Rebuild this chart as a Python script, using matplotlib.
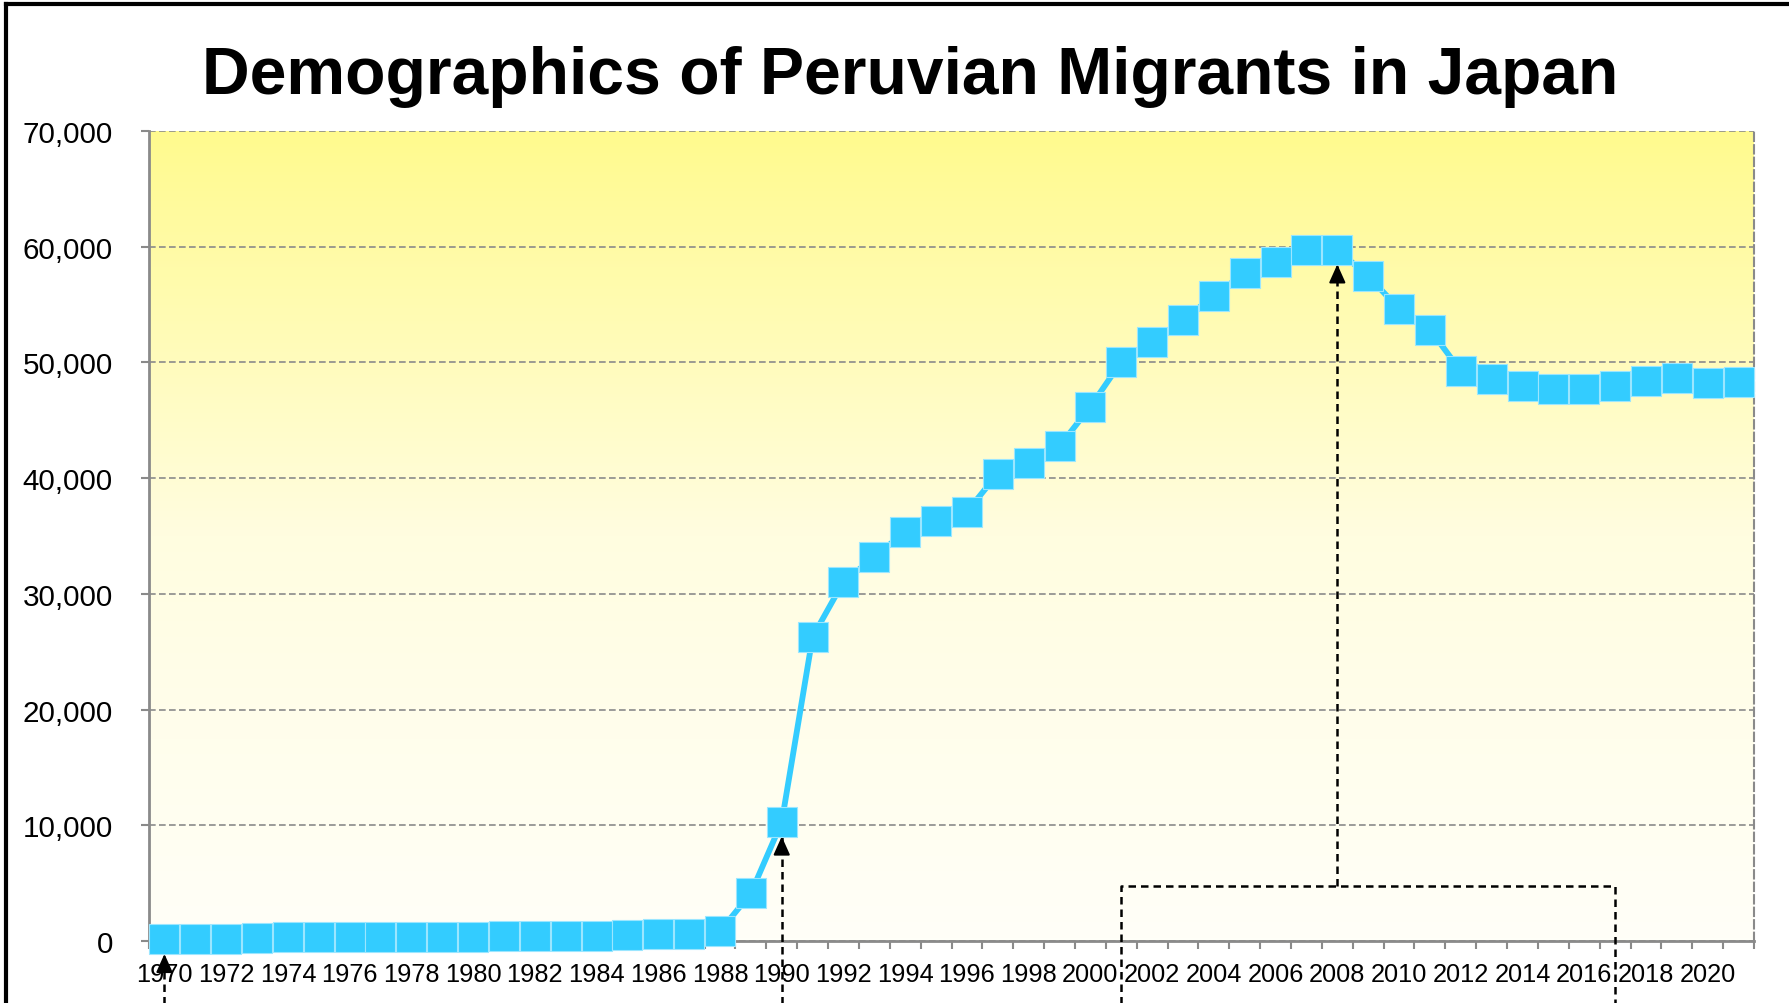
import matplotlib
matplotlib.use("Agg")
import matplotlib.pyplot as plt
import numpy as np
from matplotlib.colors import LinearSegmentedColormap
from matplotlib.lines import Line2D
from matplotlib.ticker import FuncFormatter

plt.rcParams["font.family"] = ["Liberation Sans", "DejaVu Sans"]

# ---------------------------------------------------------------------------
# Data
# ---------------------------------------------------------------------------
years = list(range(1970, 2022))
migrants = [
    130, 160, 216, 245, 303, 332, 332, 332, 332, 332,        # 1970-1979
    361, 390, 418, 418, 447, 476, 563, 620, 851, 4121,       # 1980-1989
    10279, 26281, 31051, 33169, 35382, 36269, 37099, 40394,  # 1990-1997
    41317, 42773, 46171, 50052, 51772, 53649, 55750, 57728,  # 1998-2005
    58721, 59696, 59723, 57464, 54636, 52843, 49255, 48598,  # 2006-2013
    47978, 47721, 47740, 47972, 48362, 48669, 48256, 48291,  # 2014-2021
]
title = "Demographics of Peruvian Migrants in Japan"
y_ticks = [0, 10000, 20000, 30000, 40000, 50000, 60000, 70000]

# annotation anchors
arrow_years = [1970, 1990]
bracket_years = [2001, 2017]
bracket_target = 2008
bracket_level = 4760

W, H, DPI = 1789, 1004, 100
LINE_BLUE = "#33CCFF"
GRID_GRAY = "#8a8a8a"

fig = plt.figure(figsize=(W / DPI, H / DPI), dpi=DPI)
ax = fig.add_axes([149 / W, 62 / H, (1754 - 149) / W, (942 - 132) / H])

# yellow-to-white gradient background
cmap = LinearSegmentedColormap.from_list("bg", ["#FFFFF8", "#FFFDE0", "#FFFA8E"])
grad = np.linspace(0, 1, 256).reshape(-1, 1)
ax.imshow(grad, cmap=cmap, origin="lower", aspect="auto",
          extent=(0, 1, 0, 1), transform=ax.transAxes, zorder=0)

x = np.arange(len(years))
ax.plot(x, migrants, color=LINE_BLUE, linewidth=4.2, marker="s",
        markersize=21, markerfacecolor=LINE_BLUE,
        markeredgecolor="#9BE6FF", markeredgewidth=0.8,
        zorder=4, clip_on=False)

ax.set_xlim(-0.5, len(years) - 0.5)
ax.set_ylim(0, 70000)

# y axis
ax.set_yticks(y_ticks)
ax.yaxis.set_major_formatter(FuncFormatter(lambda v, _: f"{int(v):,}"))
ax.tick_params(axis="y", length=6, width=1.5, color=GRID_GRAY,
               labelsize=21.3, pad=20)
ax.grid(axis="y", color=GRID_GRAY, linestyle=(0, (4, 2)), linewidth=1.2,
        zorder=1)
ax.set_axisbelow(True)

# x axis: labels every 2 years, ticks between categories
ax.set_xticks(x[::2])
ax.set_xticklabels([str(y) for y in years[::2]])
ax.set_xticks(np.arange(-0.5, len(years)), minor=True)
ax.tick_params(axis="x", which="major", length=0, labelsize=18.3, pad=15)
ax.tick_params(axis="x", which="minor", length=6, width=1.5,
               color=GRID_GRAY)

for side in ("left", "bottom"):
    ax.spines[side].set_color(GRID_GRAY)
    ax.spines[side].set_linewidth(2)
ax.spines["right"].set_color(GRID_GRAY)
ax.spines["right"].set_linewidth(1.5)
ax.spines["right"].set_linestyle((0, (4, 2)))
ax.spines["top"].set_visible(False)

# ---------------------------------------------------------------------------
# dashed annotation arrows
# ---------------------------------------------------------------------------
dash = (0, (3, 2))
below = -9000
head = dict(arrowstyle="-|>,head_length=0.8,head_width=0.36",
            color="black", lw=1.5, shrinkA=0, shrinkB=10.4,
            mutation_scale=14)


def arrow_to(year, top):
    i = years.index(year)
    v = migrants[i]
    ax.plot([i, i], [top, v], color="black", lw=1.8, linestyle=dash,
            zorder=3, clip_on=False)
    ax.annotate("", xy=(i, v), xytext=(0, -21.6), textcoords="offset points",
                arrowprops=head, zorder=6, annotation_clip=False)


for yr in arrow_years:
    arrow_to(yr, below)

bi = [years.index(b) for b in bracket_years]
ax.plot([bi[0], bi[0], bi[1], bi[1]],
        [below, bracket_level, bracket_level, below],
        color="black", lw=1.8, linestyle=dash, zorder=3, clip_on=False)
arrow_to(bracket_target, bracket_level)

# title
fig.text(910 / W, 1 - 94 / H, title, ha="center", va="baseline",
         fontsize=47.5, fontweight="bold")

# frame around the figure (top and left visible)
fig.add_artist(Line2D([5.5 / W, 5.5 / W], [0, 1 - 5 / H], color="black",
                      lw=3, transform=fig.transFigure))
fig.add_artist(Line2D([5.5 / W, 1], [1 - 5 / H, 1 - 5 / H], color="black",
                      lw=3, transform=fig.transFigure))

fig.savefig("out.png", dpi=DPI)
